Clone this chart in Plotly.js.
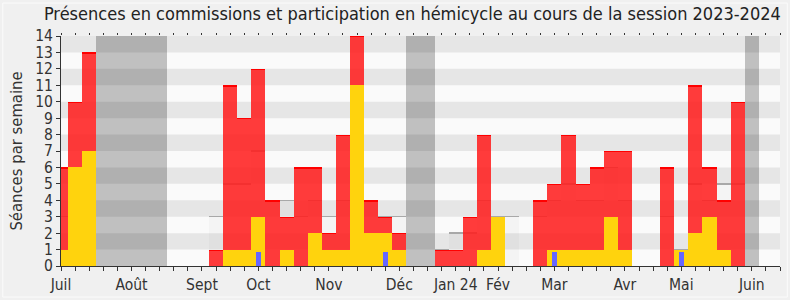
<!DOCTYPE html>
<html>
<head>
<meta charset="utf-8">
<script src="https://cdn.plot.ly/plotly-3.0.1.min.js"></script>
<style>
html,body{margin:0;padding:0;background:#f0f0f0;}
#chart{width:790px;height:300px;}
</style>
</head>
<body>
<div id="chart"></div>
<script>
// Week index (0 = first week of July 2023)
const weeks = Array.from({length: 52}, (_, i) => i);

// Month labels and their week positions
const monthPos = [0, 5, 10, 14, 19, 24, 28, 31, 35, 40, 44, 49];
const monthLabels = ['Juil', 'Août', 'Sept', 'Oct', 'Nov', 'Déc', 'Jan 24', 'Fév', 'Mar', 'Avr', 'Mai', 'Juin'];

// Vacation weeks (1 = parliamentary break)
const vacation = [0,0,0,1,1,1,1,1,0,0, 0,0,0,0,0,0,0,0,0,0, 0,0,0,0,0,1,1,0,0,0, 0,0,0,0,0,0,0,0,0,0, 0,0,0,0,0,0,0,0,0,1, 0,0];

// Total sessions per week (commission + hémicycle)
const presences = [6,10,13,0,0,0,0,0,0,0, 0,1,11,9,12,4,3,6,6,2, 8,14,4,3,2,0,0,1,1,3, 8,3,0,0,4,5,8,5,6,7, 7,0,0,6,1,11,6,4,10,0, 0,0];

// Hémicycle participation per week
const hemicycle = [1,6,7,0,0,0,0,0,0,0, 0,0,1,1,3,0,1,0,2,1, 1,11,2,2,1,0,0,0,0,0, 1,3,0,0,0,1,1,1,1,3, 1,0,0,0,1,2,3,1,0,0, 0,0];

// Median of all deputies per week
const median = [3,4,4,0,0,0,0,0,0,0, 0,3,5,5,7,4,4,3,4,3, 4,5,4,3,3,0,0,1,2,2, 4,3,3,0,3,4,5,4,4,6, 4,0,0,3,1,5,4,5,5,0, 0,0];

// Oral questions (small blue marks)
const questions = [0,0,0,0,0,0,0,0,0,0, 0,0,0,0,0.85,0,0,0,0,0, 0,0,0,0.85,0,0,0,0,0,0, 0,0,0,0,0,0.85,0,0,0,0, 0,0,0,0,0.85,0,0,0,0,0, 0,0];

const yMax = 14;
const edge = 0.08; // thickness of top edge lines, in data units
const vacY = vacation.map(v => v ? yMax : null);
const medY = median.map(v => v > 0 ? v : null);
const medEdgeY = median.map(v => v > 0 ? edge : null);
const medEdgeBase = median.map(v => v - edge / 2);
const redEdgeY = presences.map((r, i) => r > hemicycle[i] ? edge : null);
const redEdgeBase = presences.map(r => Math.min(r, yMax) - edge);
const qY = questions.map(v => v > 0 ? v : null);

const traces = [
  {type: 'bar', x: weeks, y: vacY, width: 1, marker: {color: 'rgba(0,0,0,0.23)', line: {width: 0}}, hoverinfo: 'skip'},
  {type: 'bar', x: weeks, y: medY, width: 1, marker: {color: 'rgba(0,0,0,0.025)', line: {width: 0}}, hoverinfo: 'skip'},
  {type: 'bar', x: weeks, y: medEdgeY, base: medEdgeBase, width: 1, marker: {color: '#a8a8a8', line: {width: 0}}, hoverinfo: 'skip'},
  {type: 'bar', x: weeks, y: presences, width: 1, marker: {color: 'rgba(255,30,30,0.87)', line: {width: 0}}, hoverinfo: 'skip'},
  {type: 'bar', x: weeks, y: redEdgeY, base: redEdgeBase, width: 1, marker: {color: '#ff0000', line: {width: 0}}, hoverinfo: 'skip'},
  {type: 'bar', x: weeks, y: hemicycle, width: 1, marker: {color: '#ffd30d', line: {width: 0}}, hoverinfo: 'skip'},
  {type: 'bar', x: weeks, y: qY, width: 0.36, marker: {color: '#6666ff', line: {width: 0}}, hoverinfo: 'skip'},
  {type: 'scatter', mode: 'markers', x: [0], y: [0], xaxis: 'x2', marker: {opacity: 0}, hoverinfo: 'skip'}
];

const stripes = [];
for (let v = 1; v < yMax; v += 2) {
  stripes.push({type: 'rect', xref: 'paper', yref: 'y', x0: 0, x1: 1, y0: v, y1: v + 1,
    fillcolor: '#e6e6e6', line: {width: 0}, layer: 'below'});
}

const font = "'DejaVu Sans Condensed', 'Liberation Sans Narrow', 'DejaVu Sans', sans-serif";

const layout = {
  width: 790, height: 300,
  margin: {l: 61, r: 10, t: 36, b: 34},
  paper_bgcolor: '#f0f0f0',
  plot_bgcolor: '#fafafa',
  barmode: 'overlay',
  bargap: 0,
  showlegend: false,
  font: {family: font, color: '#333', size: 15},
  title: {text: 'Présences en commissions et participation en hémicycle au cours de la session 2023-2024',
          font: {family: font, size: 18, color: '#222'}, x: 0.522, xanchor: 'center', y: 0.953, yanchor: 'middle'},
  xaxis: {
    range: [0, 51], tickvals: monthPos, ticktext: monthLabels,
    ticks: 'outside', ticklen: 4, tickcolor: '#333', tickwidth: 1,
    minor: {dtick: 1, tick0: 0, ticks: 'outside', ticklen: 4, tickcolor: '#333'},
    showgrid: false, zeroline: false, showline: true, linecolor: '#333', linewidth: 1,
    tickfont: {size: 15.5, color: '#333'}, fixedrange: true
  },
  xaxis2: {
    overlaying: 'x', matches: 'x', side: 'top', anchor: 'y', range: [0, 51],
    tickvals: weeks, ticks: 'outside', ticklen: 2, tickcolor: '#333', showticklabels: false,
    showgrid: false, zeroline: false, showline: false
  },
  yaxis: {
    range: [0, yMax], dtick: 1, tick0: 0,
    ticks: 'outside', ticklen: 4, tickcolor: '#333',
    showgrid: false, zeroline: false, showline: true, linecolor: '#333', linewidth: 1,
    tickfont: {size: 15.5, color: '#333'},
    title: {text: 'Séances par semaine', font: {size: 16.5, color: '#333'}, standoff: 8},
    fixedrange: true
  },
  shapes: stripes.concat([
    {type: 'rect', xref: 'paper', yref: 'paper', x0: -0.081, x1: 1.0102, y0: -0.135, y1: 1.143,
     line: {color: '#fbfbfb', width: 1}, fillcolor: 'rgba(0,0,0,0)', layer: 'below'}
  ])
};

Plotly.newPlot('chart', traces, layout, {displayModeBar: false, staticPlot: true});
</script>
</body>
</html>
